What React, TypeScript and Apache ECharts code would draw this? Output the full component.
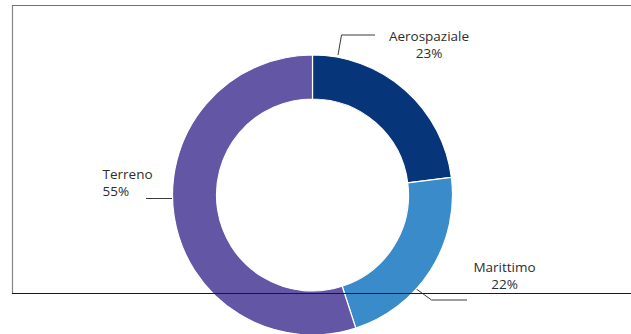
import React, { useEffect, useRef } from "react";
import * as echarts from "echarts";

const categories = ["Aerospaziale", "Marittimo", "Terreno"];
const shares = [23, 22, 55];
const sliceColors = ["#07357A", "#3A8BC9", "#6256A5"];

// label placement (layout only)
const labelPlacement = [
  { x: 429, y: 44, align: "center", line: [[338, 55], [341.5, 35], [375, 35]] },
  { x: 504.5, y: 275, align: "center", line: [[415, 288], [431.5, 300], [467, 300]] },
  { x: 102.5, y: 182, align: "left", line: [[172, 198.5], [159, 198.5], [146, 198.5]] },
];

export default function App() {
  const ref = useRef<HTMLDivElement>(null);
  useEffect(() => {
    if (!ref.current) return;
    const chart = echarts.init(ref.current, undefined, { renderer: "svg" });
    chart.setOption({
      animation: false,
      backgroundColor: "#ffffff",
      textStyle: { fontFamily: "Open Sans" },
      graphic: [
        { type: "line", z: 100, shape: { x1: 12.5, y1: 5, x2: 12.5, y2: 293.5 }, style: { stroke: "#858585", lineWidth: 1.2 } },
        { type: "line", z: 100, shape: { x1: 12, y1: 5.5, x2: 631, y2: 5.5 }, style: { stroke: "#707070", lineWidth: 1.2 } },
        { type: "line", z: 100, shape: { x1: 12, y1: 293.5, x2: 631, y2: 293.5 }, style: { stroke: "#1a1a1a", lineWidth: 1 } },
      ],
      series: [
        {
          type: "pie",
          center: [312.5, 195],
          radius: [96, 140],
          startAngle: 90,
          clockwise: true,
          avoidLabelOverlap: false,
          itemStyle: { borderColor: "#ffffff", borderWidth: 1.2 },
          label: {
            show: true,
            position: "outside",
            formatter: "{b}\n{d}%",
            fontSize: 13.5,
            lineHeight: 17,
            color: "#2e2e2e",
            fontFamily: "Open Sans",
          },
          labelLine: {
            show: true,
            lineStyle: { color: "#3a3a3a", width: 1 },
          },
          labelLayout: (params: any) => {
            const p = labelPlacement[params.dataIndex];
            return {
              x: p.x,
              y: p.y,
              align: p.align,
              verticalAlign: "middle",
              labelLinePoints: p.line,
            };
          },
          data: categories.map((name, i) => ({
            name,
            value: shares[i],
            itemStyle: { color: sliceColors[i] },
          })),
        },
      ],
    });
    return () => chart.dispose();
  }, []);
  return (
    <div
      ref={ref}
      style={{ position: "fixed", left: 0, top: 0, width: 631, height: 334 }}
    />
  );
}
